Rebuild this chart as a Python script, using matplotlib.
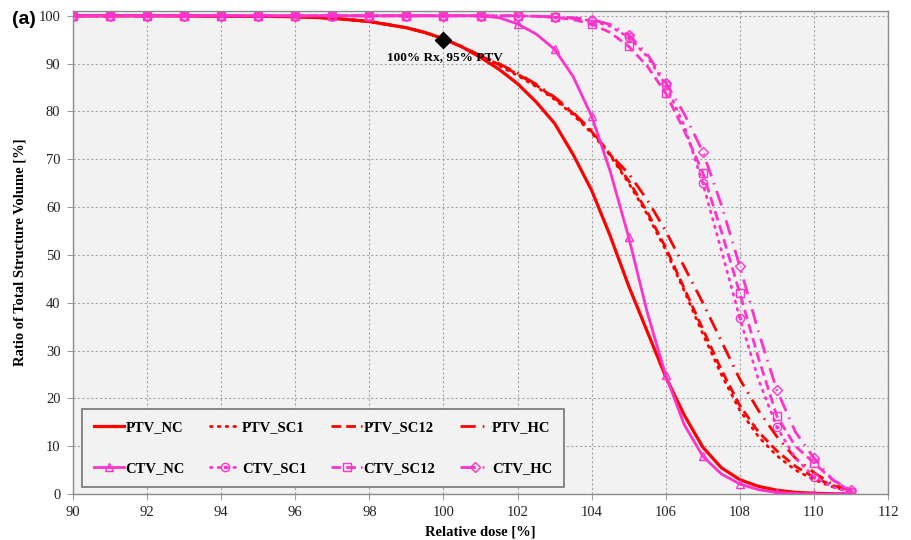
import numpy as np
import matplotlib
matplotlib.use("Agg")
import matplotlib.pyplot as plt
from matplotlib.path import Path

# ---------------- data ----------------
dose = [90, 91, 92, 93, 94, 95, 96, 97, 98, 99, 99.5, 100, 100.5, 101, 101.5,
        102, 102.5, 103, 103.5, 104, 104.5, 105, 105.5, 106, 106.5, 107, 107.5,
        108, 108.5, 109, 109.5, 110, 110.5, 111]

ptv_nc = [100, 100, 100, 100, 99.9, 99.9, 99.8, 99.5, 98.8, 97.5, 96.5, 95.2, 93.5, 91.3, 88.8,
          85.8, 82.0, 77.5, 71.0, 63.5, 54.0, 43.5, 34.0, 24.5, 16.5, 9.8, 5.5,
          3.0, 1.6, 0.8, 0.35, 0.15, 0.05, 0.0]
ptv_sc1 = [100, 100, 100, 100, 99.9, 99.9, 99.8, 99.5, 98.8, 97.5, 96.5, 95.2, 93.5, 91.5, 89.6,
           87.5, 85.2, 82.5, 79.3, 75.5, 70.8, 65.0, 58.5, 51.0, 42.5, 33.5, 25.0,
           17.5, 12.0, 8.0, 5.0, 3.0, 1.5, 0.5]
ptv_sc12 = [100, 100, 100, 100, 99.9, 99.9, 99.8, 99.5, 98.8, 97.5, 96.5, 95.2, 93.5, 91.6, 89.8,
            87.8, 85.5, 82.8, 79.6, 75.8, 71.0, 65.5, 59.0, 51.5, 43.0, 34.5, 26.0,
            18.5, 13.0, 9.0, 5.8, 3.5, 1.8, 0.5]
ptv_hc = [100, 100, 100, 100, 99.9, 99.9, 99.8, 99.5, 98.8, 97.5, 96.5, 95.2, 93.5, 91.7, 90.0,
          88.0, 85.7, 83.0, 79.8, 76.0, 71.0, 67.0, 61.5, 55.0, 47.5, 40.0, 32.0,
          24.0, 17.5, 12.0, 7.5, 4.5, 2.0, 0.7]
ctv_nc = [100, 100, 100, 100, 100, 100, 100, 100, 100, 100, 100, 100, 100, 100, 99.6,
          98.3, 96.2, 93.0, 87.3, 79.0, 67.5, 53.7, 38.0, 24.8, 14.5, 7.9, 4.2,
          2.1, 0.9, 0.3, 0.1, 0.0, 0.0, 0.3]
ctv_sc1 = [100, 100, 100, 100, 100, 100, 100, 100, 100, 100, 100, 100, 100, 100, 100,
           100, 99.9, 99.7, 99.4, 99.0, 97.8, 95.5, 91.5, 85.5, 77.0, 65.0, 51.0,
           36.8, 24.0, 14.0, 7.5, 3.6, 1.5, 0.4]
ctv_sc12 = [100, 100, 100, 100, 100, 100, 100, 100, 100, 100, 100, 100, 100, 100, 100,
            100, 99.9, 99.7, 99.2, 98.3, 96.5, 93.6, 89.5, 83.8, 76.0, 67.2, 55.0,
            42.0, 28.5, 16.3, 10.0, 6.5, 3.0, 0.5]
ctv_hc = [100, 100, 100, 100, 100, 100, 100, 100, 100, 100, 100, 100, 100, 100, 100,
          100, 99.9, 99.8, 99.6, 99.2, 98.2, 96.0, 92.0, 86.0, 79.5, 71.6, 60.5,
          47.6, 34.0, 21.7, 13.0, 7.5, 3.0, 0.8]

ref_point = (100, 95)
ref_label = "100% Rx, 95% PTV"
x_ticks = [90, 92, 94, 96, 98, 100, 102, 104, 106, 108, 110, 112]
y_ticks = [0, 10, 20, 30, 40, 50, 60, 70, 80, 90, 100]

# ---------------- style ----------------
RED = "#ff0000"
PINK = "#ff33cc"
SERIF = ["Liberation Serif", "DejaVu Serif"]

mk_idx = [i for i, d in enumerate(dose) if float(d).is_integer()]

circ_dot = Path.make_compound_path(Path.unit_circle(), Path.circle((0, 0), 0.28))

fig = plt.figure(figsize=(9.11, 5.40), dpi=100)
ax = fig.add_axes([73 / 911, 46 / 540, 815 / 911, 483 / 540])
ax.set_facecolor("#f2f2f2")

lw = 2.0
DOT = (0, (0.6, 2.2))
DASH = (0, (3.5, 1.8))
DASHDOT = (0, (5.5, 2.5, 0.6, 2.5))
h = {}
h["PTV_NC"], = ax.plot(dose, ptv_nc, color=RED, lw=2.3, ls="-")
h["PTV_SC1"], = ax.plot(dose, ptv_sc1, color=RED, lw=lw, ls=DOT, dash_capstyle="round")
h["PTV_SC12"], = ax.plot(dose, ptv_sc12, color=RED, lw=lw, ls=DASH)
h["PTV_HC"], = ax.plot(dose, ptv_hc, color=RED, lw=lw, ls=DASHDOT)

mkw = dict(markersize=6, markeredgewidth=1.0, markerfacecolor="none",
           markevery=mk_idx)
h["CTV_HC"], = ax.plot(dose, ctv_hc, color=PINK, lw=lw, ls=DASHDOT,
                       marker="D", **{**mkw, "markersize": 5})
h["CTV_SC1"], = ax.plot(dose, ctv_sc1, color=PINK, lw=lw, ls=DOT,
                        dash_capstyle="round", marker=circ_dot, **mkw)
h["CTV_NC"], = ax.plot(dose, ctv_nc, color=PINK, lw=lw, ls="-", marker="^", **mkw)
h["CTV_SC12"], = ax.plot(dose, ctv_sc12, color=PINK, lw=lw, ls=DASH,
                         marker="s", **mkw)

ax.plot([ref_point[0]], [ref_point[1]], marker="D", color="black", markersize=8, ls="none")
ax.text(ref_point[0] + 0.05, 91.4, ref_label, ha="center", va="center",
        fontsize=9.5, fontweight="bold", family=SERIF)

ax.set_xlim(90, 112)
ax.set_ylim(0, 101)
ax.set_xticks(x_ticks)
ax.set_yticks(y_ticks)
ax.grid(True, color="#a6a6a6", ls=(0, (2, 2)), lw=0.8)
ax.set_axisbelow(True)
for lab in ax.get_xticklabels() + ax.get_yticklabels():
    lab.set_family(SERIF)
    lab.set_fontsize(10.5)
    lab.set_color("#222222")
ax.tick_params(axis="both", direction="out", length=4, color="#a0a0a0", pad=5)
for s in ax.spines.values():
    s.set_color("#8c8c8c")
    s.set_linewidth(1.0)

ax.set_xlabel("Relative dose [%]", family=SERIF, fontweight="bold", fontsize=10.5, labelpad=4)
ax.set_ylabel("Ratio of Total Structure Volume [%]", family=SERIF, fontweight="bold",
              fontsize=10.5, labelpad=9)

order = ["PTV_NC", "PTV_SC1", "PTV_SC12", "PTV_HC", "CTV_NC", "CTV_SC1", "CTV_SC12", "CTV_HC"]
handles = []
labels = []
for c in range(4):
    for r in range(2):
        k = order[r * 4 + c]
        handles.append(h[k])
        labels.append(k)
leg = ax.legend(handles, labels, ncol=4, loc="lower left", bbox_to_anchor=(0.011, 0.0145),
                borderaxespad=0, prop={"family": SERIF, "weight": "bold", "size": 10.5},
                handlelength=2.1, handletextpad=0.1, columnspacing=1.7, numpoints=1,
                labelspacing=1.95, borderpad=0.8, fancybox=False,
                facecolor="#f2f2f2", edgecolor="#7f7f7f", framealpha=1)
leg.get_frame().set_linewidth(1.3)

fig.text(12 / 911, 1 - 20 / 540, "(a)", family=["Liberation Sans", "DejaVu Sans"],
         fontweight="bold", fontsize=14, ha="left", va="center")

fig.savefig("out.png", dpi=100)
